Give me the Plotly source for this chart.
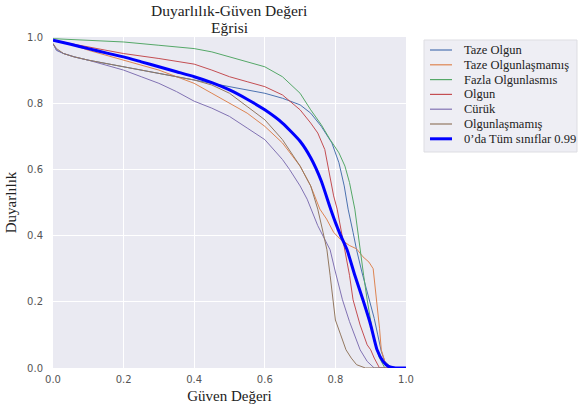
import plotly.graph_objects as go

# Series data
taze_olgun_x = [0, 0.01, 0.03, 0.06, 0.1, 0.15, 0.2, 0.25, 0.3, 0.35, 0.4, 0.45, 0.5, 0.55, 0.6, 0.65, 0.7, 0.73, 0.76, 0.79, 0.81, 0.825, 0.836, 0.85, 0.86, 0.875, 0.89, 0.898, 0.91, 0.92, 0.93, 0.94, 0.96, 1.0]
taze_olgun_y = [0.98, 0.96, 0.95, 0.94, 0.93, 0.92, 0.91, 0.90, 0.89, 0.88, 0.87, 0.86, 0.85, 0.84, 0.83, 0.815, 0.795, 0.77, 0.73, 0.68, 0.62, 0.55, 0.48, 0.41, 0.357, 0.29, 0.23, 0.206, 0.15, 0.10, 0.05, 0.02, 0.0, 0.0]

taze_olgunlasmamis_x = [0, 0.03, 0.06, 0.1, 0.15, 0.2, 0.25, 0.3, 0.35, 0.4, 0.45, 0.5, 0.55, 0.6, 0.65, 0.7, 0.73, 0.756, 0.775, 0.795, 0.813, 0.84, 0.86, 0.878, 0.895, 0.907, 0.912, 0.917, 0.925, 0.93, 0.94, 0.955, 1.0]
taze_olgunlasmamis_y = [0.99, 0.985, 0.975, 0.96, 0.945, 0.93, 0.915, 0.90, 0.88, 0.86, 0.83, 0.80, 0.77, 0.73, 0.68, 0.61, 0.55, 0.48, 0.45, 0.41, 0.39, 0.37, 0.36, 0.336, 0.32, 0.30, 0.25, 0.206, 0.12, 0.055, 0.02, 0.0, 0.0]

fazla_x = [0, 0.1, 0.2, 0.3, 0.4, 0.45, 0.5, 0.55, 0.6, 0.65, 0.7, 0.73, 0.76, 0.785, 0.81, 0.827, 0.84, 0.855, 0.862, 0.87, 0.88, 0.89, 0.9, 0.91, 0.925, 0.94, 1.0]
fazla_y = [0.995, 0.99, 0.985, 0.975, 0.965, 0.955, 0.94, 0.925, 0.91, 0.88, 0.83, 0.78, 0.735, 0.69, 0.65, 0.61, 0.56, 0.48, 0.42, 0.357, 0.28, 0.206, 0.14, 0.08, 0.03, 0.0, 0.0]

olgun_x = [0, 0.05, 0.1, 0.15, 0.2, 0.3, 0.4, 0.45, 0.5, 0.55, 0.6, 0.65, 0.7, 0.73, 0.75, 0.77, 0.785, 0.795, 0.805, 0.815, 0.827, 0.84, 0.85, 0.87, 0.89, 0.90, 0.91, 0.925, 1.0]
olgun_y = [0.99, 0.98, 0.97, 0.96, 0.95, 0.935, 0.918, 0.90, 0.88, 0.865, 0.85, 0.825, 0.78, 0.74, 0.71, 0.66, 0.58, 0.52, 0.48, 0.42, 0.357, 0.28, 0.206, 0.13, 0.07, 0.055, 0.03, 0.0, 0.0]

curuk_x = [0, 0.01, 0.03, 0.06, 0.1, 0.15, 0.2, 0.25, 0.3, 0.35, 0.4, 0.45, 0.5, 0.55, 0.6, 0.65, 0.67, 0.7, 0.72, 0.75, 0.77, 0.785, 0.8, 0.82, 0.84, 0.86, 0.87, 0.89, 0.91, 1.0]
curuk_y = [0.98, 0.96, 0.95, 0.94, 0.93, 0.915, 0.90, 0.88, 0.86, 0.835, 0.806, 0.785, 0.76, 0.725, 0.69, 0.63, 0.60, 0.55, 0.51, 0.43, 0.39, 0.357, 0.29, 0.206, 0.14, 0.08, 0.055, 0.02, 0.0, 0.0]

olgunlasmamis_x = [0, 0.01, 0.03, 0.06, 0.1, 0.15, 0.2, 0.3, 0.4, 0.45, 0.5, 0.55, 0.6, 0.65, 0.7, 0.73, 0.75, 0.765, 0.776, 0.785, 0.793, 0.80, 0.815, 0.83, 0.845, 0.86, 0.885, 1.0]
olgunlasmamis_y = [0.98, 0.965, 0.95, 0.94, 0.93, 0.92, 0.91, 0.89, 0.87, 0.855, 0.83, 0.79, 0.75, 0.69, 0.61, 0.55, 0.48, 0.41, 0.357, 0.28, 0.206, 0.145, 0.10, 0.055, 0.03, 0.01, 0.0, 0.0]

mean_x = [0, 0.05, 0.1, 0.15, 0.2, 0.25, 0.3, 0.35, 0.4, 0.45, 0.5, 0.55, 0.6, 0.65, 0.7, 0.73, 0.76, 0.785, 0.8, 0.815, 0.833, 0.855, 0.878, 0.9, 0.918, 0.935, 0.95, 0.97, 1.0]
mean_y = [0.99, 0.978, 0.965, 0.952, 0.94, 0.925, 0.91, 0.895, 0.88, 0.862, 0.84, 0.812, 0.78, 0.74, 0.685, 0.635, 0.565, 0.485, 0.44, 0.40, 0.357, 0.28, 0.206, 0.13, 0.055, 0.02, 0.005, 0.0, 0.0]

series_names = ["Taze Olgun", "Taze Olgunlaşmamış", "Fazla Olgunlasmıs", "Olgun", "Cürük", "Olgunlaşmamış"]
series_x = [taze_olgun_x, taze_olgunlasmamis_x, fazla_x, olgun_x, curuk_x, olgunlasmamis_x]
series_y = [taze_olgun_y, taze_olgunlasmamis_y, fazla_y, olgun_y, curuk_y, olgunlasmamis_y]
series_colors = ["#4C72B0", "#DD8452", "#55A868", "#C44E52", "#8172B3", "#937860"]
mean_name = "0’da Tüm sınıflar 0.99"
title_lines = ["Duyarlılık-Güven Değeri", "Eğrisi"]

fig = go.Figure()
for name, xs, ys, col in zip(series_names, series_x, series_y, series_colors):
    fig.add_trace(go.Scatter(x=xs, y=ys, mode="lines", name=name,
                             line=dict(color=col, width=1)))
fig.add_trace(go.Scatter(x=mean_x, y=mean_y, mode="lines", name=mean_name,
                         line=dict(color="#0000FF", width=3, shape="spline", smoothing=0.5)))

serif = "Liberation Serif, Times New Roman, serif"

# plot area in pixels
L, R, T, B = 53, 406, 37, 368
W, H = 585, 417
def px_to_paper_x(px):
    return (px - L) / (R - L)
def px_to_paper_y(py):
    return (B - py) / (B - T)

# title as two single-line annotations
for line_text, cy in zip(title_lines, [11, 27]):
    fig.add_annotation(xref="paper", yref="paper", x=0.5, y=px_to_paper_y(cy),
                       xanchor="center", yanchor="middle", text=line_text, showarrow=False,
                       borderpad=0, font=dict(family=serif, size=15.5, color="#222"))

# custom legend (box, line samples, labels)
fig.add_shape(type="rect", xref="paper", yref="paper",
              x0=px_to_paper_x(424), x1=px_to_paper_x(577),
              y0=px_to_paper_y(40), y1=px_to_paper_y(152),
              fillcolor="#EEEEF4", line=dict(color="#DDDDE2", width=1), layer="above")
legend_names = series_names + [mean_name]
legend_colors = series_colors + ["#0000FF"]
legend_widths = [1.2] * len(series_names) + [3]
for i, (nm, col, lw) in enumerate(zip(legend_names, legend_colors, legend_widths)):
    py = 50 + i * 14.8
    fig.add_shape(type="line", xref="paper", yref="paper",
                  x0=px_to_paper_x(430), x1=px_to_paper_x(452),
                  y0=px_to_paper_y(py), y1=px_to_paper_y(py),
                  line=dict(color=col, width=lw), layer="above")
    fig.add_annotation(xref="paper", yref="paper", x=px_to_paper_x(462), y=px_to_paper_y(py),
                       xanchor="left", yanchor="middle", text=nm, showarrow=False,
                       font=dict(family=serif, size=12.5, color="#222"))

fig.update_layout(
    width=W, height=H,
    margin=dict(l=L, r=W - R, t=T, b=H - B, autoexpand=False),
    paper_bgcolor="white", plot_bgcolor="#EAEAF2",
    showlegend=False,
)
fig.update_xaxes(range=[0, 1], dtick=0.2, tickformat=".1f", showgrid=True, gridcolor="white",
                 gridwidth=1, zeroline=False, showline=False, ticks="", ticklabelstandoff=4,
                 automargin=False,
                 tickfont=dict(family="DejaVu Sans", size=10, color="#555"),
                 title=dict(text="Güven Değeri", font=dict(family=serif, size=15, color="#222"), standoff=6))
fig.update_yaxes(range=[0, 1], dtick=0.2, tickformat=".1f", showgrid=True, gridcolor="white",
                 gridwidth=1, zeroline=False, showline=False, ticks="", ticklabelstandoff=9,
                 automargin=False,
                 tickfont=dict(family="DejaVu Sans", size=10, color="#555"),
                 title=dict(text="Duyarlılık", font=dict(family=serif, size=15, color="#222"), standoff=6))

fig.write_html("out.html", config={"displayModeBar": False},
               post_script="document.body.style.margin='0px';document.body.style.overflow='hidden';")
